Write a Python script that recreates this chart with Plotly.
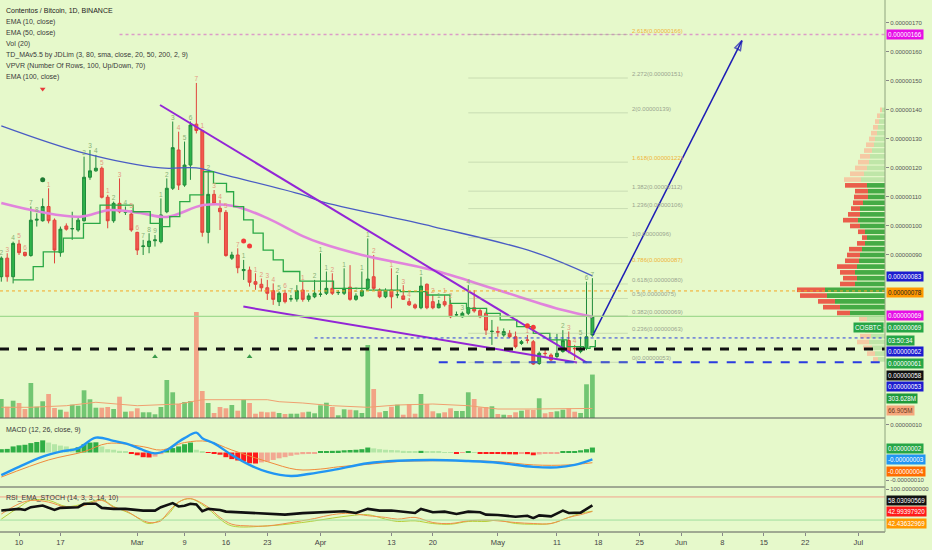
import pandas as pd
import plotly.graph_objects as go

START = pd.Timestamp("2020-02-07")

# daily candles 2020-02-07 .. 2020-05-17, prices in 1e-8 BTC (satoshi)
opens = [82.5, 88.9, 82.5, 93.8, 90.9, 89.8, 102.0, 101.8, 106.7, 102.0,
         90.8, 100.0, 99.0, 98.6, 101.8, 116.8, 119.0, 119.9, 109.9, 101.8,
         107.8, 104.7, 104.1, 97.8, 92.9, 92.9, 94.9, 94.6, 104.9, 113.0,
         126.2, 114.1, 121.0, 135.1, 132.9, 97.8, 110.9, 106.1, 104.7, 88.9,
         90.0, 84.6, 84.8, 80.8, 79.9, 78.7, 77.7, 73.9, 76.8, 74.8,
         74.8, 77.9, 74.7, 75.6, 76.4, 76.8, 78.5, 77.0, 76.8, 78.9,
         74.7, 75.9, 78.5, 82.5, 77.9, 75.6, 77.9, 76.2, 75.9, 73.9,
         72.8, 71.8, 79.9, 73.9, 71.8, 73.9, 72.8, 69.3, 68.7, 69.9,
         71.8, 70.8, 69.9, 63.6, 63.6, 62.4, 63.0, 61.8, 59.5, 60.7,
         60.1, 52.6, 56.1, 55.5, 55.0, 56.7, 60.5, 57.8, 56.7, 57.8,
         62.4]
highs = [89.5, 90.6, 94.6, 95.2, 91.1, 106.7, 104.4, 109.5, 113.0, 102.6,
         99.8, 100.9, 104.9, 103.2, 123.9, 126.2, 124.5, 120.5, 110.7, 108.4,
         116.4, 106.7, 105.5, 98.0, 95.2, 97.5, 96.9, 109.5, 116.4, 136.0,
         132.5, 129.1, 136.0, 149.3, 133.1, 118.7, 112.4, 108.9, 105.5, 91.1,
         92.3, 88.3, 86.0, 83.7, 81.9, 81.4, 80.2, 77.4, 78.0, 76.2,
         79.6, 80.8, 76.8, 81.4, 90.6, 84.3, 83.7, 77.9, 85.4, 86.5,
         76.8, 84.3, 95.7, 90.0, 78.5, 78.5, 85.4, 83.1, 79.6, 75.1,
         73.3, 82.5, 80.2, 76.2, 74.5, 76.2, 74.5, 70.5, 70.5, 79.6,
         77.9, 71.6, 70.5, 67.6, 65.3, 64.7, 64.1, 63.6, 60.7, 62.4,
         60.7, 56.7, 57.8, 56.1, 62.8, 64.1, 63.6, 59.0, 61.8, 80.8,
         82.0]
lows = [80.8, 80.8, 80.2, 90.0, 89.4, 89.4, 99.8, 101.5, 100.9, 87.1,
        89.4, 98.4, 95.2, 98.0, 101.5, 115.9, 118.7, 109.5, 99.2, 101.1,
        104.4, 103.8, 98.0, 90.0, 90.0, 90.6, 92.9, 94.0, 104.4, 112.4,
        112.4, 113.5, 115.9, 131.9, 96.3, 94.0, 107.2, 98.6, 89.4, 88.3,
        83.7, 81.4, 79.1, 78.0, 77.4, 74.5, 72.8, 72.4, 73.3, 73.9,
        73.9, 73.9, 73.9, 75.1, 75.6, 76.2, 76.2, 76.2, 76.2, 74.2,
        74.2, 75.6, 77.9, 77.9, 75.1, 75.1, 71.6, 75.1, 74.5, 72.4,
        71.3, 71.3, 71.3, 71.3, 71.6, 72.2, 68.2, 68.7, 68.4, 69.3,
        70.1, 68.2, 62.4, 59.0, 61.8, 61.8, 61.3, 57.8, 59.0, 59.5,
        52.1, 52.1, 55.0, 53.2, 54.4, 56.3, 56.1, 53.8, 56.1, 57.2,
        61.8]
closes = [88.9, 82.5, 94.0, 90.8, 89.8, 102.0, 102.3, 106.7, 101.8, 91.7,
          98.9, 98.9, 99.1, 102.0, 116.8, 119.0, 119.9, 109.9, 101.8, 107.8,
          104.9, 105.0, 98.6, 91.7, 93.1, 94.8, 95.2, 103.8, 113.0, 127.0,
          114.1, 121.0, 134.8, 132.9, 97.8, 110.9, 107.8, 104.9, 89.8, 90.0,
          85.6, 85.0, 80.6, 79.9, 78.7, 76.8, 74.7, 76.8, 73.9, 74.9,
          77.7, 74.7, 75.9, 76.8, 76.5, 78.5, 76.8, 77.1, 78.5, 74.7,
          75.9, 77.7, 81.7, 78.5, 75.6, 77.7, 75.6, 76.3, 74.7, 72.8,
          71.8, 79.3, 71.8, 71.8, 73.1, 72.8, 68.7, 69.4, 69.9, 71.8,
          70.7, 68.7, 64.1, 63.7, 63.4, 63.6, 61.8, 58.4, 60.1, 60.6,
          52.4, 56.1, 56.0, 53.8, 56.1, 60.5, 56.7, 57.7, 57.8, 61.8,
          68.7]
# volume in millions COS
volumes = [133, 79, 121, 105, 63, 245, 79, 117, 168, 70,
           58, 44, 93, 86, 194, 131, 72, 72, 77, 63,
           149, 44, 47, 68, 40, 40, 26, 77, 266, 180,
           98, 112, 119, 742, 189, 105, 35, 77, 68, 91,
           51, 128, 105, 30, 44, 40, 44, 35, 28, 30,
           30, 40, 44, 33, 89, 107, 77, 19, 61, 58,
           54, 35, 511, 203, 40, 49, 79, 93, 23, 98,
           30, 168, 98, 47, 33, 40, 68, 49, 49, 180,
           133, 75, 77, 82, 28, 23, 21, 40, 51, 58,
           56, 138, 33, 42, 47, 58, 68, 44, 35, 236,
           304]
vol_ma_k = [0, 5, 11, 16, 23, 30, 34, 45, 47, 51, 56, 62, 67, 73, 79, 84, 90, 96, 100]
vol_ma_v = [75, 75, 86, 110, 86, 98, 128, 128, 114, 105, 86, 75, 91, 98, 86, 63, 63, 63, 67]

# MACD histogram per day, 1e-8
macd_hist = [1.2, 1.3, 2.2, 2.6, 2.8, 3.4, 3.8, 4.4, 3.6, 3.0,
             2.5, 2.2, 1.6, 1.9, 3.0, 3.6, 3.7, 2.2, 1.2, 1.0,
             0.6, 0.2, -0.5, -1.0, -1.7, -1.8, -1.5, -0.6, 1.0, 1.6,
             2.2, 3.0, 3.6, 1.0, 0.4, -0.1, -0.5, -0.8, -1.7, -2.4,
             -2.9, -3.3, -3.9, -4.0, -3.6, -3.3, -2.7, -2.1, -1.7, -1.2,
             -0.8, -0.6, -0.4, -0.2, 0.3, 0.5, 0.6, 0.65, 0.8, 0.9,
             1.0, 1.2, 1.8, 1.5, 1.2, 1.0, 0.9, 0.8, 0.6, 0.4,
             0.3, 0.6, 0.4, 0.3, 0.2, 0.15, 0.1, -0.2, -0.1, 0.2,
             0.1, -0.2, -0.4, -0.5, -0.55, -0.6, -0.65, -0.7, -0.5, -0.6,
             -1.0, -0.7, -0.5, -0.4, -0.3, 0.2, 0.3, 0.5, 0.8, 1.2,
             1.8]
macd_k = [0, 3, 7, 10, 13, 16, 19, 21, 24, 26, 28, 30, 31, 33, 34, 36, 39, 42, 45, 49,
          52, 56, 62, 67, 73, 79, 84, 90, 94, 97, 100]
macd_v = [-8.2, -5.2, -1.5, 0.3, 1.5, 5.4, 4.2, 3.3, 0.9, -0.3, 0.9, 3.9, 5.2, 7.2, 5.2,
          3.3, -0.9, -4.5, -7.0, -8.5, -7.8, -6.4, -3.9, -3.0, -2.7, -3.1, -3.7, -5.2,
          -5.4, -4.5, -2.5]
sig_k = [0, 8, 14, 18, 24, 27, 31, 35, 39, 45, 50, 54, 57, 62, 67, 73, 79, 84, 90, 96, 100]
sig_v = [-8.9, -2.7, 0.3, 3.3, 2.1, 0.9, 3.6, 4.0, 0.9, -3.3, -6.2, -6.0, -5.2, -4.3,
         -3.3, -3.0, -3.0, -3.3, -4.5, -4.5, -3.7]

# RSI / stochastic pane
rsi_k = [0, 3, 4, 5, 7, 9, 10, 13, 14, 16, 17, 19, 21, 24, 26, 27, 29, 30, 31, 32, 33,
         34, 35, 37, 38, 40, 43, 45, 48, 51, 54, 58, 60, 62, 64, 66, 70, 71, 73, 75,
         77, 79, 81, 82, 84, 87, 89, 90, 91, 93, 95, 96, 98, 100]
rsi_v = [44.6, 49.0, 46.3, 53.4, 57.8, 46.3, 51.6, 53.4, 62.2, 62.2, 51.6, 49.0, 49.0,
         44.6, 44.6, 53.4, 64.0, 55.2, 56.9, 62.2, 60.5, 42.8, 49.0, 46.3, 41.9, 40.1,
         38.4, 35.7, 34.0, 38.0, 40.1, 42.8, 38.4, 49.0, 44.6, 44.6, 38.4, 49.0, 40.1,
         41.9, 35.7, 41.9, 40.1, 34.0, 33.1, 28.7, 31.3, 25.1, 32.2, 29.5, 44.6, 38.4,
         39.3, 58.0]
stk_k = [0, 3, 5, 8, 11, 14, 17, 19, 21, 23, 25, 27, 28, 30, 32, 35, 37, 39, 42, 45,
         50, 53, 56, 59, 62, 65, 67, 70, 73, 76, 79, 82, 84, 87, 90, 93, 96, 98, 100]
stk_v = [35.7, 62.2, 71.1, 66.6, 53.4, 57.8, 71.1, 53.4, 44.6, 26.9, 13.6, 18.0, 35.7,
         66.6, 75.5, 53.4, 26.9, 9.2, 4.8, 4.8, 16.0, 24.0, 34.0, 37.5, 31.3, 26.9,
         22.4, 26.9, 13.6, 11.0, 18.0, 19.8, 18.0, 13.6, 11.0, 11.0, 26.9, 34.0, 42.4]
std_k = [0, 3, 5, 8, 11, 14, 17, 19, 22, 25, 28, 30, 32, 35, 37, 39, 45, 50, 53, 56,
         59, 62, 65, 67, 70, 73, 76, 79, 82, 84, 87, 90, 93, 96, 98, 100]
std_v = [22.4, 53.4, 71.1, 71.1, 55.2, 62.2, 72.8, 55.2, 35.7, 11.0, 31.3, 66.6, 75.5,
         49.0, 22.4, 4.8, 4.8, 12.0, 18.0, 25.1, 31.3, 34.0, 22.4, 16.3, 18.0, 11.0,
         9.2, 16.3, 16.3, 19.8, 11.0, 9.2, 11.0, 26.9, 37.5, 43.0]

# moving averages in the price pane
ema100_k = [0, 14, 27, 33, 38, 51, 54, 73, 90, 100]
ema100_v = [134.5, 125.1, 120.0, 120.0, 117.5, 110.7, 108.5, 99.8, 91.1, 82.8]
ema50_k = [0, 6.5, 13.3, 18.4, 23.5, 28, 34.2, 39.3, 44.9, 51, 54, 61, 73, 84, 95, 100]
ema50_v = [107.9, 104.9, 103.2, 105.5, 104.5, 103.1, 107.2, 106.9, 102.8, 96.5, 94.1,
           90.0, 84.8, 77.9, 71.0, 68.7]
td_line_k = [2, 5.4, 7.1, 10.5, 13.9, 16.7, 19.5, 22.3, 25.2, 26.9, 28.5, 30.2, 31.9,
             34.2, 35.9, 38.1, 39.3, 41, 42.6, 44.3, 46, 47.7, 50.5, 56.2, 61.8, 67.5,
             72, 75.9, 78.7, 82.1, 84.4, 87.2, 90, 92.8, 95.7, 98.5, 99.6, 100.5]
td_line_v = [81.4, 86.0, 91.1, 95.8, 100.9, 107.2, 107.2, 104.9, 100.9, 99.8, 103.2,
             108.4, 110.7, 118.7, 114.7, 111.8, 106.7, 102.1, 97.5, 91.7, 88.3, 84.3,
             81.0, 78.5, 77.9, 77.4, 76.2, 73.3, 71.6, 69.9, 67.6, 65.3, 63.0, 60.7,
             58.4, 57.8, 58.4, 60.7]

# drawn trend lines and target arrow
wedge_top_k = [26.85, 99.05]
wedge_top_v = [141.7, 52.9]
wedge_bot_k = [40.95, 97.4]
wedge_bot_v = [72.2, 52.9]
arrow_k = [100.1, 125.3]
arrow_v = [62.4, 163.9]

# TD sequential counts
td_k = [0, 1, 2, 3, 4, 5, 6, 8, 14, 15, 16, 17, 18, 19, 20, 21, 22, 23, 24, 25, 26, 27,
        28, 29, 30, 31, 32, 33, 34, 35, 36, 37, 38, 40, 41, 43, 44, 45, 46, 47, 48, 49,
        51, 53, 54, 55, 56, 58, 60, 61, 62, 63, 66, 67, 68, 69, 71, 73, 74, 75, 76, 78,
        79, 89, 95, 96, 97, 98, 99, 100]
td_n = [2, 3, 4, 5, 6, 7, 8, 1, 2, 3, 4, 5, 1, 2, 3, 4, 5, 6, 7, 8, 9, 1, 2, 3, 4, 5, 6,
        7, 1, 2, 3, 4, 5, 7, 1, 1, 2, 3, 4, 5, 6, 7, 1, 2, 1, 1, 2, 1, 2, 1, 1, 2, 1, 2,
        3, 4, 1, 2, 1, 1, 2, 3, 4, 1, 2, 3, 4, 5, 6, 7]
red_dot_k = [41, 42, 89, 90]
red_dot_v = [94.8, 93.1, 65.6, 65.1]
green_dot_k = [7]
green_dot_v = [115.9]
buy_tri_k = [26, 42]
buy_tri_v = [54.9, 54.9]
sell_tri_k = [7]
sell_tri_v = [147.2]

# volume profile (VPVR) rows
vp_price = [140, 138, 136, 134, 132, 130, 128, 126, 124, 122, 120, 118, 116, 114, 112,
            110, 108, 106, 104, 102, 100, 98, 96, 94, 92, 90, 88, 86, 84, 82, 80, 78,
            76, 74, 72, 70, 68, 66, 64, 62, 60, 58, 56, 54]
vp_total = [5, 8, 10, 12, 14, 16, 19, 21, 25, 27, 30, 35, 41, 40, 30, 31, 32, 34, 37, 42,
            35, 27, 23, 28, 36, 38, 40, 48, 45, 42, 45, 88, 85, 67, 62, 48, 26, 15, 20, 25,
            28, 22, 18, 12]
vp_up = [3, 5, 6, 7, 8, 10, 11, 13, 15, 16, 18, 21, 24, 18, 17, 17, 22, 25, 25, 27, 25,
         20, 18, 20, 23, 25, 26, 28, 30, 28, 30, 60, 58, 50, 45, 35, 18, 9, 12, 14, 16,
         13, 10, 7]
va_low, va_high = 69, 115

# fibonacci extension
fib_ratio = ["0", "0.236", "0.382", "0.5", "0.618", "0.786", "1", "1.236", "1.382",
             "1.618", "2", "2.272", "2.618"]
fib_price = [53, 63, 69, 75, 80, 87, 96, 106, 112, 122, 139, 151, 166]
fib_gold = ["0.786", "1.618", "2.618"]

x_tick_dates = ["2020-02-10", "2020-02-17", "2020-03-01", "2020-03-09", "2020-03-16",
                "2020-03-23", "2020-04-01", "2020-04-13", "2020-04-20", "2020-05-01",
                "2020-05-11", "2020-05-18", "2020-05-25", "2020-06-01", "2020-06-08",
                "2020-06-15", "2020-06-22", "2020-07-01"]
x_tick_text = ["10", "17", "Mar", "9", "16", "23", "Apr", "13", "20", "May", "11", "18",
               "25", "Jun", "8", "15", "22", "Jul"]
price_ticks = [90, 100, 110, 120, 130, 140, 150, 160, 170]

legend_lines = ["Contentos / Bitcoin, 1D, BINANCE", "EMA (10, close)", "EMA (50, close)",
                "Vol (20)", "TD_MAv5.5 by JDLim (3, 80, sma, close, 20, 50, 200, 2, 9)",
                "VPVR (Number Of Rows, 100, Up/Down, 70)", "EMA (100, close)"]

BG = "#e6f9cb"
FONT = "Liberation Sans, Arial, sans-serif"
PLOT_H = 532
GREEN, RED = "#2fb34a", "#f3574f"


def py(px):
    return 1 - px / PLOT_H


def at(ks):
    return [START + pd.to_timedelta(k, unit="D") for k in ks]


days = at(range(len(closes)))
up = [c >= o for o, c in zip(opens, closes)]

fig = go.Figure()

# volume + its MA (overlay axis in price pane)
fig.add_trace(go.Bar(x=days, y=volumes, width=0.8 * 86400000,
                     marker=dict(color=["#72c672" if u else "#f2a486" for u in up], line_width=0),
                     xaxis="x", yaxis="y2"))
fig.add_trace(go.Scatter(x=at(vol_ma_k), y=vol_ma_v, mode="lines",
                         line=dict(color="#f0a070", width=1), xaxis="x", yaxis="y2"))

# volume profile
in_va = [va_low <= p <= va_high for p in vp_price]
fig.add_trace(go.Bar(y=vp_price, x=vp_up, base=0, orientation="h", width=1.6,
                     marker=dict(color=["#45ab45" if v else "#bfe6a8" for v in in_va], line_width=0),
                     xaxis="x2", yaxis="y"))
fig.add_trace(go.Bar(y=vp_price, x=[t - u for t, u in zip(vp_total, vp_up)], base=vp_up,
                     orientation="h", width=1.6,
                     marker=dict(color=["#ea5d4b" if v else "#f5caa4" for v in in_va], line_width=0),
                     xaxis="x2", yaxis="y"))

# moving averages
fig.add_trace(go.Scatter(x=at(ema100_k), y=ema100_v, mode="lines", line_shape="spline",
                         line=dict(color="#4a5cc4", width=1.3)))
fig.add_trace(go.Scatter(x=at(ema50_k), y=ema50_v, mode="lines", line_shape="spline",
                         line=dict(color="#e184dc", width=2.6)))
fig.add_trace(go.Scatter(x=at(td_line_k), y=td_line_v, mode="lines", line_shape="hv",
                         line=dict(color="#2aa845", width=1.3)))

# wedge lines
for ks, vs in [(wedge_top_k, wedge_top_v), (wedge_bot_k, wedge_bot_v)]:
    fig.add_trace(go.Scatter(x=at(ks), y=vs, mode="lines", line=dict(color="#9326d6", width=2)))

# candles
fig.add_trace(go.Candlestick(
    x=days, open=opens, high=highs, low=lows, close=closes, whiskerwidth=0,
    increasing=dict(line=dict(color="#1f8a3a", width=1), fillcolor=GREEN),
    decreasing=dict(line=dict(color="#e0443c", width=1), fillcolor=RED),
    xaxis="x", yaxis="y"))

# TD counts and markers
fig.add_trace(go.Scatter(x=at(td_k), y=[highs[k] for k in td_k], mode="text",
                         text=[str(n) for n in td_n], textposition="top center",
                         textfont=dict(size=6.5, family=FONT,
                                       color=["#86b276" if up[k] else "#e49a82" for k in td_k])))
fig.add_trace(go.Scatter(x=at(red_dot_k), y=red_dot_v, mode="markers",
                         marker=dict(color="#f23b3b", size=5)))
fig.add_trace(go.Scatter(x=at(green_dot_k), y=green_dot_v, mode="markers",
                         marker=dict(color="#1e7a32", size=5)))
fig.add_trace(go.Scatter(x=at(buy_tri_k), y=buy_tri_v, mode="markers",
                         marker=dict(color="#3a9a4a", size=5, symbol="triangle-up")))
fig.add_trace(go.Scatter(x=at(sell_tri_k), y=sell_tri_v, mode="markers",
                         marker=dict(color="#e83a3a", size=5, symbol="triangle-down")))

# target arrow
fig.add_trace(go.Scatter(x=at(arrow_k), y=arrow_v, mode="lines+markers",
                         line=dict(color="#1d1db5", width=1.5),
                         marker=dict(symbol=["circle", "arrow-open"], size=[0, 10], angleref="previous",
                                     color="#1d1db5", line=dict(color="#1d1db5", width=1.5))))

# MACD pane
hist_colors = []
for i, h in enumerate(macd_hist):
    prev = macd_hist[i - 1] if i else 0
    if h >= 0:
        hist_colors.append("#2fae45" if h > prev else "#b4e6a6")
    else:
        hist_colors.append("#ff1a1a" if h < prev else "#f2a892")
fig.add_trace(go.Bar(x=days, y=macd_hist, width=0.85 * 86400000,
                     marker=dict(color=hist_colors, line_width=0), xaxis="x3", yaxis="y3"))
fig.add_trace(go.Scatter(x=at(sig_k), y=sig_v, mode="lines", line_shape="spline",
                         line=dict(color="#f08a3c", width=1), xaxis="x3", yaxis="y3"))
fig.add_trace(go.Scatter(x=at(macd_k), y=macd_v, mode="lines", line_shape="spline",
                         line=dict(color="#2196f3", width=2.4), xaxis="x3", yaxis="y3"))

# RSI pane
fig.add_trace(go.Scatter(x=at(std_k), y=std_v, mode="lines", line_shape="spline",
                         line=dict(color="#b8cf3a", width=1), xaxis="x4", yaxis="y4"))
fig.add_trace(go.Scatter(x=at(stk_k), y=stk_v, mode="lines", line_shape="spline",
                         line=dict(color="#f0904a", width=1), xaxis="x4", yaxis="y4"))
fig.add_trace(go.Scatter(x=at(rsi_k), y=rsi_v, mode="lines",
                         line=dict(color="#111111", width=2.6), xaxis="x4", yaxis="y4"))

fig.update_traces(hoverinfo="skip", showlegend=False)

# horizontal levels
x_end = at([149.5])[0]
shapes = [
    dict(type="line", xref="x", yref="y", x0=at([20])[0], x1=x_end, y0=166, y1=166,
         line=dict(color="#dc9cc8", width=1.6, dash="dot")),
    dict(type="line", xref="paper", yref="y", x0=0, x1=1, y0=77.6, y1=77.6,
         line=dict(color="#f5a623", width=1, dash="dot")),
    dict(type="line", xref="paper", yref="y", x0=0, x1=1, y0=68.8, y1=68.8,
         line=dict(color="#a2db90", width=1.2)),
    dict(type="line", xref="paper", yref="y", x0=0, x1=1, y0=57.6, y1=57.6,
         line=dict(color="#111111", width=3, dash="dash")),
    dict(type="line", xref="x", yref="y", x0=at([53])[0], x1=x_end, y0=61.4, y1=61.4,
         line=dict(color="#2a3be0", width=1, dash="dot")),
    dict(type="line", xref="x", yref="y", x0=at([74])[0], x1=x_end, y0=53, y1=53,
         line=dict(color="#2a3be0", width=2, dash="dash")),
    dict(type="line", xref="paper", yref="y4", x0=0, x1=1, y0=80, y1=80,
         line=dict(color="#f2a38c", width=1)),
    dict(type="line", xref="paper", yref="y4", x0=0, x1=1, y0=20, y1=20,
         line=dict(color="#9fde9f", width=1)),
    dict(type="line", xref="paper", yref="paper", x0=0, x1=1, y0=py(418), y1=py(418),
         line=dict(color="#5a5a5a", width=1)),
    dict(type="line", xref="paper", yref="paper", x0=0, x1=1, y0=py(487), y1=py(487),
         line=dict(color="#5a5a5a", width=1)),
    dict(type="line", xref="paper", yref="paper", x0=0, x1=1, y0=0, y1=0,
         line=dict(color="#5a5a5a", width=1)),
    dict(type="line", xref="paper", yref="paper", x0=1, x1=1, y0=0, y1=1,
         line=dict(color="#8fa47f", width=1)),
]
for p in fib_price:
    shapes.append(dict(type="line", xref="x", yref="y", x0=at([79])[0], x1=at([106])[0],
                       y0=p, y1=p, line=dict(color="rgba(150,170,135,0.35)", width=1)))

annotations = []
legend_font = dict(size=7, color="#3a3a3a", family=FONT)
for i, t in enumerate(legend_lines):
    annotations.append(dict(text=t, xref="paper", yref="paper", x=0.004, y=py(11 + 11 * i),
                            xanchor="left", yanchor="middle", showarrow=False,
                            font=dict(legend_font, color="#222222") if i == 0 else legend_font))
annotations.append(dict(text="MACD (12, 26, close, 9)", xref="paper", yref="paper", x=0.004,
                        y=py(430), xanchor="left", yanchor="middle", showarrow=False,
                        font=legend_font))
annotations.append(dict(text="RSI_EMA_STOCH (14, 3, 3, 14, 10)", xref="paper", yref="paper",
                        x=0.004, y=py(498), xanchor="left", yanchor="middle", showarrow=False,
                        font=legend_font))
for r, p in zip(fib_ratio, fib_price):
    annotations.append(dict(text=f"{r}({p * 1e-8:.8f})", xref="x", yref="y", x=at([106.4])[0],
                            y=p, xanchor="left", yanchor="middle", yshift=4, showarrow=False,
                            font=dict(size=6, family=FONT,
                                      color="#f0b43a" if r in fib_gold else "#9aa590")))

# stacked price-scale labels: text, background, text colour, pixel row
scale_labels = [
    ("0.00000166", "#e60ee6", "white", 35),
    ("0.00000083", "#1c1ccf", "white", 276),
    ("0.00000078", "#ff9800", "#222", 292),
    ("0.00000069", "#e60ee6", "white", 315),
    ("0.00000069", "#26a646", "white", 327),
    ("03:50:34", "#26a646", "white", 340),
    ("0.00000062", "#1c1ccf", "white", 351),
    ("0.00000061", "#26a646", "white", 363),
    ("0.00000058", "#111111", "white", 375),
    ("0.00000053", "#1c1ccf", "white", 387),
    ("303.628M", "#1f9a3a", "white", 398),
    ("66.905M", "#f6a77c", "#6a3a20", 410),
    ("0.00000002", "#26a646", "white", 448),
    ("-0.00000003", "#2196f3", "white", 459),
    ("-0.00000004", "#ff6d00", "white", 471),
    ("58.03090569", "#111111", "white", 500),
    ("42.99397920", "#ff1a1a", "white", 511),
    ("42.43632969", "#ff9800", "white", 523),
]
for t, bg, fg, row in scale_labels:
    annotations.append(dict(text=t, xref="paper", yref="paper", x=1, y=py(row), xanchor="left",
                            yanchor="middle", xshift=1, showarrow=False, bgcolor=bg, borderpad=1,
                            font=dict(size=6.3, color=fg, family=FONT)))
annotations.append(dict(text="COSBTC", xref="paper", yref="paper", x=1, y=py(327), xanchor="right",
                        yanchor="middle", xshift=-1, showarrow=False, bgcolor="#26a646",
                        borderpad=1, font=dict(size=6.3, color="white", family=FONT)))

axis_common = dict(showgrid=False, zeroline=False, fixedrange=True)
yfont = dict(size=6, color="#555555", family=FONT)
fig.update_layout(
    width=932, height=550,
    margin=dict(l=0, r=47, t=0, b=18),
    paper_bgcolor=BG, plot_bgcolor=BG,
    barmode="overlay", hovermode=False, showlegend=False,
    font=dict(family=FONT, color="#444444"),
    shapes=shapes, annotations=annotations,
    xaxis=dict(domain=[0, 1], range=[at([-0.22])[0], x_end], anchor="y", showticklabels=False,
               rangeslider=dict(visible=False), **axis_common),
    xaxis2=dict(overlaying="x", anchor="y", range=[885, 0], visible=False, **axis_common),
    yaxis=dict(domain=[py(418), 1], range=[33.8, 177.9], side="right", anchor="x",
               tickvals=price_ticks, ticktext=[f"{v * 1e-8:.8f}" for v in price_ticks],
               ticks="outside", ticklen=3, tickcolor="#888888", tickfont=yfont, **axis_common),
    yaxis2=dict(overlaying="y", anchor="x", range=[0, 2926], visible=False, **axis_common),
    xaxis3=dict(domain=[0, 1], matches="x", anchor="y3", showticklabels=False, **axis_common),
    yaxis3=dict(domain=[py(487), py(418)], anchor="x3", range=[-12.5, 12.5], side="right",
                tickvals=[10, -10], ticktext=["0.00000010", "-0.00000010"], ticks="outside",
                ticklen=3, tickcolor="#888888", tickfont=yfont, **axis_common),
    xaxis4=dict(domain=[0, 1], matches="x", anchor="y4", tickvals=x_tick_dates,
                ticktext=x_tick_text, ticks="outside", ticklen=3, tickcolor="#888888",
                tickfont=dict(size=7.5, color="#444444", family=FONT), **axis_common),
    yaxis4=dict(domain=[0, py(487)], anchor="x4", range=[-11, 105.8], side="right",
                tickvals=[100], ticktext=["100.00000000"], ticks="outside", ticklen=3,
                tickcolor="#888888", tickfont=yfont, **axis_common),
)

# the page body has a default 8px margin; remove it so the chart fills the window
fig.write_html("out.html", config={"displayModeBar": False},
               post_script="document.body.style.margin='0';")
